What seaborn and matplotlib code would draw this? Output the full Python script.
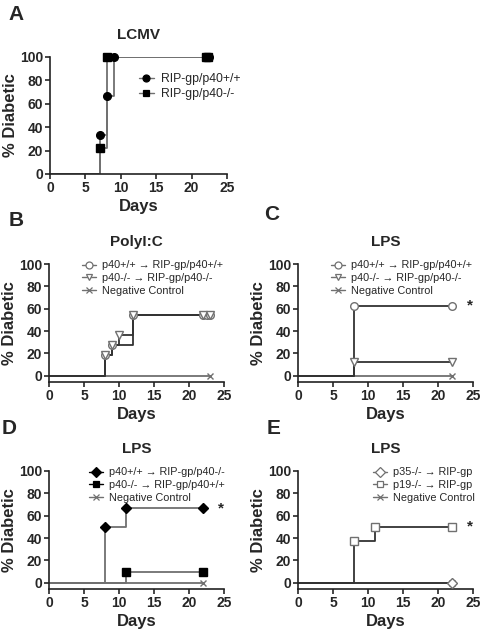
import numpy as np
import pandas as pd
import seaborn as sns
import matplotlib.pyplot as plt
from matplotlib.lines import Line2D

sns.set_style('ticks')
plt.rcParams['font.family'] = ['Liberation Sans', 'DejaVu Sans']

# ---- data ----
# panel A  LCMV
a_wt_days = [7, 8, 9]
a_wt_pct = [33.3, 66.7, 100]
a_wt_cens = [22, 22.5]
a_ko_days = [7, 8]
a_ko_pct = [22.2, 100]
a_ko_cens = [22, 22.3]

# panel B  PolyI:C
b_wt_days = [8, 9, 12]
b_wt_pct = [18.2, 27.3, 54.5]
b_wt_cens = [22, 22.5, 23]
b_ko_days = [8, 9, 10, 12]
b_ko_pct = [18.2, 27.3, 36.4, 54.5]
b_ko_cens = [22, 23]
b_neg_end = 23

# panel C  LPS
c_wt_days = [8]
c_wt_pct = [62.5]
c_ko_days = [8]
c_ko_pct = [12.5]
c_end = 22

# panel D  LPS
d_a_days = [8, 11]
d_a_pct = [50, 66.7]
d_b_days = [11]
d_b_pct = [10]
d_end = 22

# panel E  LPS
e_p35_days = []
e_p35_pct = []
e_p19_days = [8, 11]
e_p19_pct = [37.5, 50]
e_end = 22

LINE = '#333333'
GRAY = '#707070'


def km(ax, days, pct, cens, marker, mfc, mec, lc, ms=5.5):
    x = [0] + list(days) + [cens[-1]]
    y = [0] + list(pct) + [pct[-1] if pct else 0]
    df = pd.DataFrame({'x': x, 'y': y})
    sns.lineplot(data=df, x='x', y='y', ax=ax, drawstyle='steps-post',
                 color=lc, lw=1.3, sort=False, estimator=None)
    last = pct[-1] if pct else 0
    mx = list(days) + list(cens)
    my = list(pct) + [last] * len(cens)
    ax.plot(mx, my, ls='none', marker=marker, ms=ms, mfc=mfc, mec=mec,
            mew=1.0, clip_on=False, zorder=5)


def neg(ax, end):
    df = pd.DataFrame({'x': [0, end], 'y': [0, 0]})
    sns.lineplot(data=df, x='x', y='y', ax=ax, color=GRAY, lw=1.3)
    ax.plot([end], [0], ls='none', marker='x', ms=4.5, mec=GRAY, mew=1.0,
            clip_on=False, zorder=5)


def style(ax, title, letter, lx, ly, offset=True):
    ax.set_xlim(0, 25)
    if offset:
        ax.set_ylim(-5.5, 100)
    else:
        ax.set_ylim(0, 100)
    ax.set_xticks([0, 5, 10, 15, 20, 25])
    ax.set_yticks([0, 20, 40, 60, 80, 100])
    ax.tick_params(labelsize=10, width=1.2, length=3.5, pad=1.5)
    for lab in ax.get_xticklabels() + ax.get_yticklabels():
        lab.set_fontweight('bold')
    for s in ['left', 'bottom']:
        ax.spines[s].set_linewidth(1.2)
        ax.spines[s].set_color('#222222')
    sns.despine(ax=ax)
    ax.set_xlabel('Days', fontsize=12, fontweight='bold', labelpad=3)
    ax.set_ylabel('% Diabetic', fontsize=12, fontweight='bold', labelpad=1)
    ax.set_title(title, fontsize=11, fontweight='bold', pad=13)
    ax.figure.text(lx, ly, letter, fontsize=15, fontweight='bold',
                   ha='left', va='center')


def legend(ax, handles, labels, x0, y0, fs=7.8):
    ax.legend(handles, labels, loc='upper left', bbox_to_anchor=(x0, y0),
              frameon=False, fontsize=fs, handlelength=1.3,
              handletextpad=0.5, labelspacing=0.25, borderaxespad=0,
              borderpad=0)


def h(marker, mfc, mec, lc, ms=5):
    return Line2D([], [], color=lc, lw=1.0, marker=marker, ms=ms, mfc=mfc,
                  mec=mec, mew=0.9)


W, H = 484, 633
fig = plt.figure(figsize=(W / 100, H / 100), dpi=100)


def axes(x0, x1, ytop, ybot):
    return fig.add_axes([x0 / W, 1 - ybot / H, (x1 - x0) / W, (ybot - ytop) / H])


axA = axes(50, 227, 57, 174)
axB = axes(49, 224, 264, 382)
axC = axes(298, 473, 264, 382)
axD = axes(49, 224, 471, 589)
axE = axes(298, 473, 471, 589)

# A
km(axA, a_wt_days, a_wt_pct, a_wt_cens, 'o', 'black', 'black', GRAY)
km(axA, a_ko_days, a_ko_pct, a_ko_cens, 's', 'black', 'black', GRAY)
style(axA, 'LCMV', 'A', 8 / W, 1 - 14 / H, offset=False)
legend(axA, [h('o', 'black', 'black', GRAY), h('s', 'black', 'black', GRAY)],
       ['RIP-gp/p40+/+', 'RIP-gp/p40-/-'], 0.5, 0.86, fs=8.8)

# B
neg(axB, b_neg_end)
km(axB, b_wt_days, b_wt_pct, b_wt_cens, 'o', 'white', GRAY, LINE)
km(axB, b_ko_days, b_ko_pct, b_ko_cens, 'v', 'white', GRAY, LINE)
style(axB, 'PolyI:C', 'B', 9 / W, 1 - 220 / H)
legend(axB, [h('o', 'white', GRAY, GRAY), h('v', 'white', GRAY, GRAY),
             h('x', 'white', GRAY, GRAY)],
       ['p40+/+ \u2192 RIP-gp/p40+/+', 'p40-/- \u2192 RIP-gp/p40-/-',
        'Negative Control'], 0.19, 1.03)

# C
neg(axC, c_end)
km(axC, c_wt_days, c_wt_pct, [c_end], 'o', 'white', GRAY, LINE)
km(axC, c_ko_days, c_ko_pct, [c_end], 'v', 'white', GRAY, LINE)
style(axC, 'LPS', 'C', 264 / W, 1 - 215 / H)
legend(axC, [h('o', 'white', GRAY, GRAY), h('v', 'white', GRAY, GRAY),
             h('x', 'white', GRAY, GRAY)],
       ['p40+/+ \u2192 RIP-gp/p40+/+', 'p40-/- \u2192 RIP-gp/p40-/-',
        'Negative Control'], 0.19, 1.03)
axC.text(24.6, c_wt_pct[-1], '*', fontsize=11, fontweight='bold',
         ha='center', va='center', clip_on=False)

# D
neg(axD, d_end)
km(axD, d_a_days, d_a_pct, [d_end], 'D', 'black', 'black', GRAY, ms=5)
km(axD, d_b_days, d_b_pct, [d_end], 's', 'black', 'black', GRAY)
style(axD, 'LPS', 'D', 2 / W, 1 - 428 / H)
legend(axD, [h('D', 'black', 'black', 'black'), h('s', 'black', 'black', 'black'),
             h('x', 'white', GRAY, GRAY)],
       ['p40+/+ \u2192 RIP-gp/p40-/-', 'p40-/- \u2192 RIP-gp/p40+/+',
        'Negative Control'], 0.23, 1.03)
axD.text(24.6, d_a_pct[-1], '*', fontsize=11, fontweight='bold',
         ha='center', va='center', clip_on=False)

# E
neg(axE, e_end)
km(axE, e_p35_days, e_p35_pct, [e_end], 'D', 'white', GRAY, LINE, ms=5)
km(axE, e_p19_days, e_p19_pct, [e_end], 's', 'white', GRAY, LINE)
style(axE, 'LPS', 'E', 267 / W, 1 - 428 / H)
legend(axE, [h('D', 'white', GRAY, GRAY), h('s', 'white', GRAY, GRAY),
             h('x', 'white', GRAY, GRAY)],
       ['p35-/- \u2192 RIP-gp', 'p19-/- \u2192 RIP-gp', 'Negative Control'],
       0.43, 1.03)
axE.text(24.6, e_p19_pct[-1], '*', fontsize=11, fontweight='bold',
         ha='center', va='center', clip_on=False)

fig.savefig('out.png', dpi=100)
